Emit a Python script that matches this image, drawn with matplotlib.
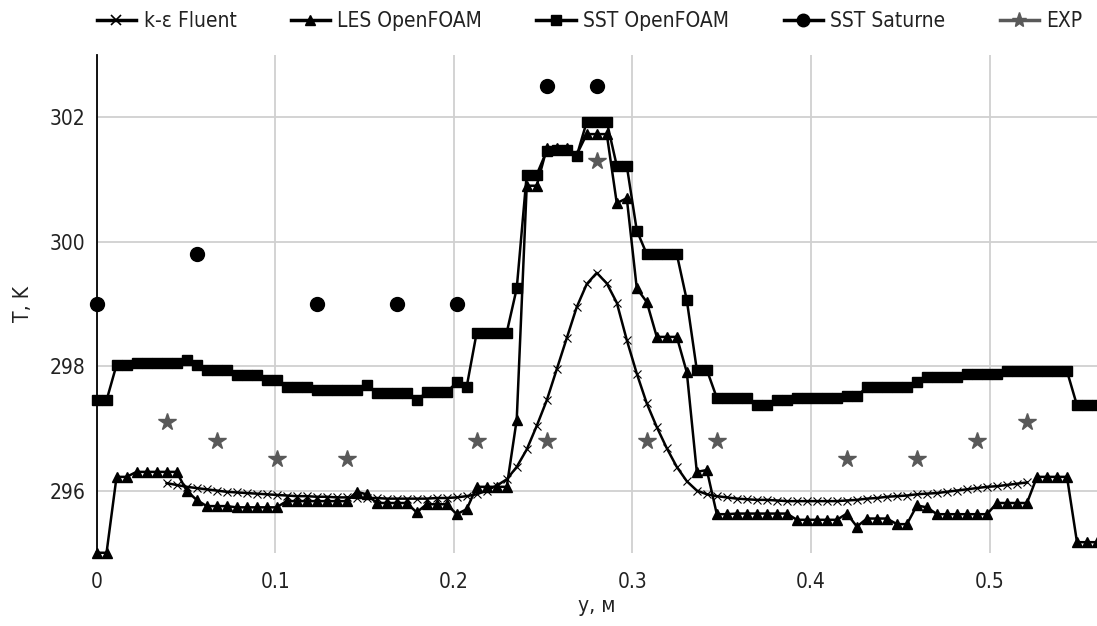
import numpy as np
import matplotlib
matplotlib.use("Agg")
import matplotlib.pyplot as plt
from matplotlib.lines import Line2D

plt.rcParams['font.family'] = ['DejaVu Sans']
plt.rcParams['font.stretch'] = 'condensed'

# probe positions along the line, m
y_pos = [
    0.0, 0.0056, 0.0112, 0.0168, 0.0224, 0.028, 0.0336, 0.0392, 0.0448, 0.0504,
    0.056, 0.0616, 0.0672, 0.0728, 0.0784, 0.084, 0.0896, 0.0952, 0.1008, 0.1064,
    0.112, 0.1176, 0.1232, 0.1288, 0.1344, 0.14, 0.1456, 0.1512, 0.1568, 0.1624,
    0.168, 0.1736, 0.1792, 0.1848, 0.1904, 0.196, 0.2016, 0.2072, 0.2128, 0.2184,
    0.224, 0.2296, 0.2352, 0.2408, 0.2464, 0.252, 0.2576, 0.2632, 0.2688, 0.2744,
    0.28, 0.2856, 0.2912, 0.2968, 0.3024, 0.308, 0.3136, 0.3192, 0.3248, 0.3304,
    0.336, 0.3416, 0.3472, 0.3528, 0.3584, 0.364, 0.3696, 0.3752, 0.3808, 0.3864,
    0.392, 0.3976, 0.4032, 0.4088, 0.4144, 0.42, 0.4256, 0.4312, 0.4368, 0.4424,
    0.448, 0.4536, 0.4592, 0.4648, 0.4704, 0.476, 0.4816, 0.4872, 0.4928, 0.4984,
    0.504, 0.5096, 0.5152, 0.5208, 0.5264, 0.532, 0.5376, 0.5432, 0.5488, 0.5544,
    0.56,
]

nan = np.nan
T_ke_fluent = [
    nan, nan, nan, nan, nan, nan, nan, 296.12, 296.09, 296.06,
    296.04, 296.02, 296.0, 295.98, 295.97, 295.96, 295.95, 295.94, 295.93, 295.92,
    295.91, 295.91, 295.9, 295.9, 295.89, 295.89, 295.88, 295.88, 295.88, 295.87,
    295.87, 295.87, 295.87, 295.87, 295.88, 295.88, 295.89, 295.91, 295.94, 296.0,
    296.08, 296.18, 296.38, 296.66, 297.04, 297.45, 297.95, 298.45, 298.95, 299.32,
    299.5, 299.33, 299.02, 298.42, 297.88, 297.4, 297.02, 296.68, 296.38, 296.15,
    296.0, 295.94, 295.91, 295.89, 295.87, 295.86, 295.85, 295.85, 295.84, 295.83,
    295.83, 295.83, 295.83, 295.83, 295.83, 295.84, 295.85, 295.87, 295.88, 295.9,
    295.91, 295.92, 295.94, 295.95, 295.96, 295.98, 296.0, 296.02, 296.04, 296.06,
    296.07, 296.09, 296.11, 296.13, nan, nan, nan, nan, nan, nan,
    nan,
]

T_les_openfoam = [
    295.0, 295.0, 296.22, 296.22, 296.3, 296.3, 296.3, 296.3, 296.3, 296.0,
    295.85, 295.75, 295.75, 295.75, 295.73, 295.73, 295.73, 295.73, 295.73, 295.83,
    295.83, 295.83, 295.83, 295.83, 295.83, 295.83, 295.98, 295.94, 295.8, 295.8,
    295.8, 295.8, 295.65, 295.78, 295.78, 295.78, 295.62, 295.7, 296.06, 296.06,
    296.06, 296.06, 297.14, 300.9, 300.9, 301.5, 301.5, 301.5, 301.4, 301.73,
    301.73, 301.73, 300.62, 300.7, 299.25, 299.03, 298.47, 298.47, 298.47, 297.9,
    296.3, 296.33, 295.62, 295.62, 295.63, 295.63, 295.63, 295.63, 295.63, 295.63,
    295.53, 295.53, 295.53, 295.53, 295.53, 295.63, 295.42, 295.55, 295.55, 295.55,
    295.46, 295.46, 295.76, 295.73, 295.62, 295.62, 295.62, 295.62, 295.62, 295.62,
    295.8, 295.8, 295.8, 295.8, 296.22, 296.22, 296.22, 296.22, 295.17, 295.17,
    295.17,
]

T_sst_openfoam = [
    297.45, 297.45, 298.02, 298.02, 298.05, 298.05, 298.05, 298.05, 298.05, 298.1,
    298.02, 297.94, 297.94, 297.94, 297.86, 297.86, 297.86, 297.78, 297.78, 297.66,
    297.66, 297.66, 297.62, 297.62, 297.62, 297.62, 297.62, 297.7, 297.57, 297.57,
    297.57, 297.57, 297.45, 297.58, 297.58, 297.58, 297.74, 297.67, 298.54, 298.54,
    298.54, 298.54, 299.25, 301.08, 301.08, 301.46, 301.47, 301.47, 301.38, 301.93,
    301.93, 301.93, 301.22, 301.22, 300.18, 299.8, 299.8, 299.8, 299.8, 299.06,
    297.94, 297.94, 297.49, 297.49, 297.49, 297.49, 297.37, 297.37, 297.45, 297.45,
    297.48, 297.48, 297.48, 297.48, 297.48, 297.52, 297.52, 297.66, 297.66, 297.66,
    297.66, 297.66, 297.74, 297.82, 297.82, 297.82, 297.82, 297.88, 297.88, 297.88,
    297.88, 297.92, 297.92, 297.92, 297.92, 297.92, 297.92, 297.92, 297.37, 297.37,
    297.37,
]

y_saturne = [0.0, 0.056, 0.1232, 0.168, 0.2016, 0.252, 0.28]
T_sst_saturne = [299.0, 299.8, 299.0, 299.0, 299.0, 302.5, 302.5]

y_exp = [0.0392, 0.0672, 0.1008, 0.14, 0.2128, 0.252, 0.28,
         0.308, 0.3472, 0.42, 0.4592, 0.4928, 0.5208]
T_exp = [297.1, 296.8, 296.5, 296.5, 296.8, 296.8, 301.3,
         296.8, 296.8, 296.5, 296.5, 296.8, 297.1]

exp_color = '#595959'
text_color = '#222222'

fig = plt.figure(figsize=(10.97, 6.26), dpi=100)
ax = fig.add_axes([0.088, 0.117, 0.912, 0.795])

ax.plot(y_pos, T_ke_fluent, color='black', lw=1.8, marker='x', ms=6, mew=0.8,
        clip_on=False, zorder=4)
ax.plot(y_pos, T_les_openfoam, color='black', lw=1.8, marker='^', ms=7,
        clip_on=False, zorder=3)
ax.plot(y_pos, T_sst_openfoam, color='black', lw=1.8, marker='s', ms=7,
        clip_on=False, zorder=3)
ax.plot(y_saturne, T_sst_saturne, ls='none', color='black', marker='o', ms=10,
        clip_on=False, zorder=5)
ax.plot(y_exp, T_exp, ls='none', color=exp_color, marker='*', ms=13,
        clip_on=False, zorder=5)

ax.set_xlim(0, 0.56)
ax.set_ylim(295, 303)
ax.set_xticks([0, 0.1, 0.2, 0.3, 0.4, 0.5])
ax.set_xticklabels(['0', '0.1', '0.2', '0.3', '0.4', '0.5'])
ax.set_yticks([296, 298, 300, 302])
ax.grid(True, color='#d0d0d0', lw=1.3)
ax.set_axisbelow(True)
for s in ['top', 'right', 'bottom']:
    ax.spines[s].set_visible(False)
ax.spines['left'].set_color('black')
ax.spines['left'].set_linewidth(1.3)
ax.tick_params(length=0, labelsize=15, colors=text_color)
ax.tick_params(axis='x', pad=14)
ax.tick_params(axis='y', pad=8)
ax.set_xlabel('y, м', fontsize=15, color=text_color, labelpad=3)
ax.set_ylabel('T, K', fontsize=15, color=text_color, labelpad=12)

handles = [
    Line2D([], [], color='black', lw=2.5, marker='x', ms=7, mew=1.2),
    Line2D([], [], color='black', lw=2.5, marker='^', ms=7),
    Line2D([], [], color='black', lw=2.5, marker='s', ms=7),
    Line2D([], [], color='black', lw=2.5, marker='o', ms=9),
    Line2D([], [], color=exp_color, lw=2.5, marker='*', ms=11),
]
labels = ['k-ε Fluent', 'LES OpenFOAM', 'SST OpenFOAM', 'SST Saturne', 'EXP']
fig.legend(handles, labels, loc='upper left', bbox_to_anchor=(0.071, 1.012),
           ncol=5, frameon=False, fontsize=15, handlelength=1.9,
           columnspacing=2.6, handletextpad=0.35, labelcolor=text_color)

fig.savefig('out.png', dpi=100)
